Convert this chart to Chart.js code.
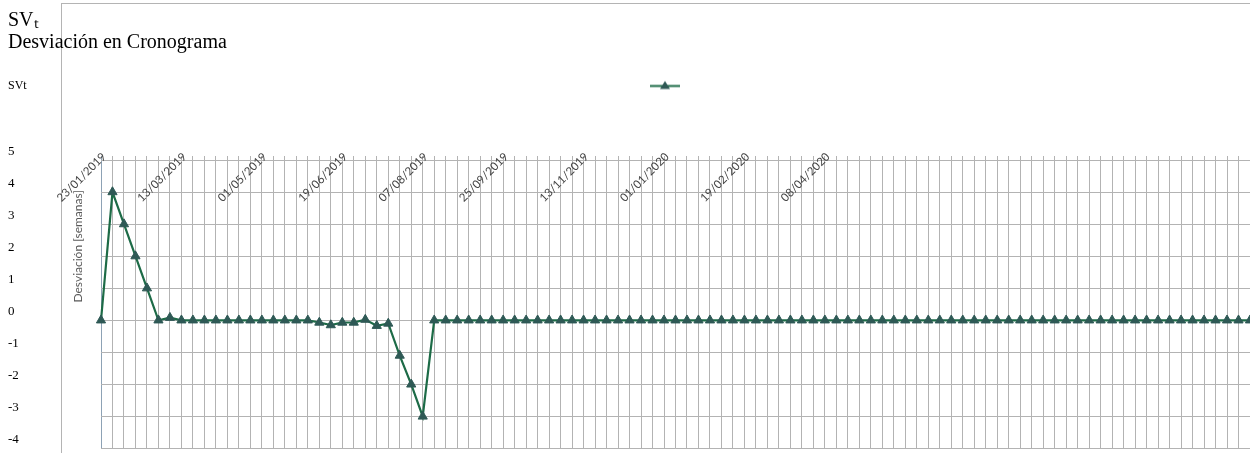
<!DOCTYPE html>
<html>
<head>
<meta charset="utf-8">
<script src="https://cdn.jsdelivr.net/npm/chart.js@4.4.1/dist/chart.umd.min.js"></script>
<style>
  html, body { margin: 0; padding: 0; background: #fff; overflow: hidden; }
  #wrap { position: relative; width: 1250px; height: 453px; }
  #frame { position: absolute; left: 61px; top: 3px; right: 0; bottom: 0; border-left: 1px solid #b4b4b4; border-top: 1px solid #b4b4b4; }
  #chart { position: absolute; left: 0; top: 0; }
</style>
</head>
<body>
<div id="wrap"><div id="frame"></div><canvas id="chart" width="1250" height="453"></canvas></div>
<script>
// weekly status dates, first one 23/01/2019, 101 weeks shown
var firstWeek = Date.UTC(2019, 0, 23);
var weekCount = 101;

// dates that get a label on the top axis
var tickLabels = ['23/01/2019', '13/03/2019', '01/05/2019', '19/06/2019', '07/08/2019',
	'25/09/2019', '13/11/2019', '01/01/2020', '19/02/2020', '08/04/2020'];

// SVt deviation (weeks)
var svtValues = [
	0, 4, 3, 2, 1, 0, 0.08,
	0, 0, 0, 0, 0, 0, 0, 0, 0, 0, 0, 0,
	-0.07, -0.15, -0.07, -0.07, 0.02, -0.17, -0.1, -1.1, -2, -3,
	0, 0, 0, 0, 0, 0, 0, 0, 0, 0, 0, 0,
	0, 0, 0, 0, 0, 0, 0, 0, 0, 0, 0, 0,
	0, 0, 0, 0, 0, 0, 0, 0, 0, 0, 0, 0,
	0, 0, 0, 0, 0, 0, 0, 0, 0, 0, 0, 0,
	0, 0, 0, 0, 0, 0, 0, 0, 0, 0, 0, 0,
	0, 0, 0, 0, 0, 0, 0, 0, 0, 0, 0, 0
];

var yMin = -4;
var yMax = 5;

var lineColor = '#1d6b47';
var markerColor = '#2e5955';
var gridColor = '#b3b3b3';

var categories = [];
for (var i = 0; i < weekCount; i++) {
	var d = new Date(firstWeek + i * 7 * 86400000);
	var dd = ('0' + d.getUTCDate()).slice(-2);
	var mm = ('0' + (d.getUTCMonth() + 1)).slice(-2);
	categories.push(dd + '/' + mm + '/' + d.getUTCFullYear());
}

// legend symbol: line with a triangle (right part of a wider transparent strip)
function legendGlyph() {
	var c = document.createElement('canvas');
	c.width = 108;
	c.height = 12;
	var g = c.getContext('2d');
	g.strokeStyle = lineColor;
	g.lineWidth = 2;
	g.beginPath();
	g.moveTo(78, 6.5);
	g.lineTo(108, 6.5);
	g.stroke();
	g.fillStyle = markerColor;
	g.beginPath();
	g.moveTo(93, 1.5);
	g.lineTo(98, 9.5);
	g.lineTo(88, 9.5);
	g.closePath();
	g.fill();
	return c;
}

var ctx = document.getElementById('chart').getContext('2d');
var chart = new Chart(ctx, {
	type: 'line',
	data: {
		labels: categories,
		datasets: [{
			label: 'SVt',
			data: svtValues,
			borderColor: lineColor,
			borderWidth: 2.2,
			tension: 0,
			pointStyle: 'triangle',
			pointRadius: 5.3,
			pointBackgroundColor: markerColor,
			pointBorderColor: markerColor,
			pointBorderWidth: 1,
			xAxisID: 'x',
			yAxisID: 'y'
		}]
	},
	options: {
		responsive: false,
		animation: false,
		devicePixelRatio: 1,
		events: [],
		layout: { autoPadding: false, padding: { left: 8, right: 0, top: 0, bottom: 4.5 } },
		plugins: {
			title: {
				display: true,
				align: 'start',
				text: ['SV\u209C', 'Desviación en Cronograma'],
				color: '#000',
				font: { family: 'Liberation Serif', size: 20, weight: 'normal', lineHeight: 1.1 },
				padding: { top: 10, bottom: 0 }
			},
			subtitle: {
				display: true,
				align: 'start',
				text: 'SVt',
				color: '#000',
				font: { family: 'Liberation Serif', size: 12, lineHeight: 1.2 },
				padding: { top: 24.8, bottom: -23.7 }
			},
			legend: {
				display: true,
				position: 'top',
				labels: {
					usePointStyle: true,
					pointStyle: legendGlyph(),
					pointStyleWidth: 108,
					padding: 10,
					font: { size: 12 },
					generateLabels: function(c) {
						return Chart.defaults.plugins.legend.labels.generateLabels(c).map(function(item) {
							item.text = '';
							return item;
						});
					}
				}
			},
			tooltip: { enabled: false }
		},
		scales: {
			x: {
				position: 'top',
				offset: false,
				grid: {
					color: function(c) { return c.index === 0 ? '#8da2b5' : gridColor; },
					tickLength: 4
				},
				border: { display: false },
				ticks: {
					autoSkip: false,
					minRotation: 45,
					maxRotation: 45,
					mirror: true,
					padding: 35,
					labelOffset: -42,
					color: '#454545',
					font: { family: 'Lato', size: 11.5 },
					z: 1,
					callback: function(v, i) {
						var l = categories[i];
						return tickLabels.indexOf(l) >= 0 ? l : '';
					}
				},
				afterFit: function(s) {
					s.height = 58.5;
					s.paddingLeft = 0;
					s.paddingRight = 0;
				}
			},
			y: {
				position: 'left',
				weight: 1,
				min: yMin,
				max: yMax,
				grid: { color: gridColor, drawTicks: false },
				border: { display: false },
				ticks: {
					stepSize: 1,
					crossAlign: 'far',
					labelOffset: -8.5,
					padding: 0,
					color: '#000',
					font: { family: 'Liberation Serif', size: 13 }
				},
				afterFit: function(s) {
					s.width = 63;
					s.paddingTop = 0;
					s.paddingBottom = 0;
				}
			},
			yTitle: {
				type: 'linear',
				position: 'left',
				weight: 0,
				grid: { display: false, drawTicks: false },
				border: { display: false },
				ticks: { display: false },
				title: {
					display: true,
					text: 'Desviación [semanas]' + '\u2002\u2002\u2002\u2002\u2002',
					align: 'end',
					color: '#595959',
					font: { family: 'Lato', size: 12 },
					padding: 0
				},
				afterFit: function(s) {
					s.width = 30;
					s.paddingTop = 0;
					s.paddingBottom = 0;
				}
			}
		}
	}
});
</script>
</body>
</html>
